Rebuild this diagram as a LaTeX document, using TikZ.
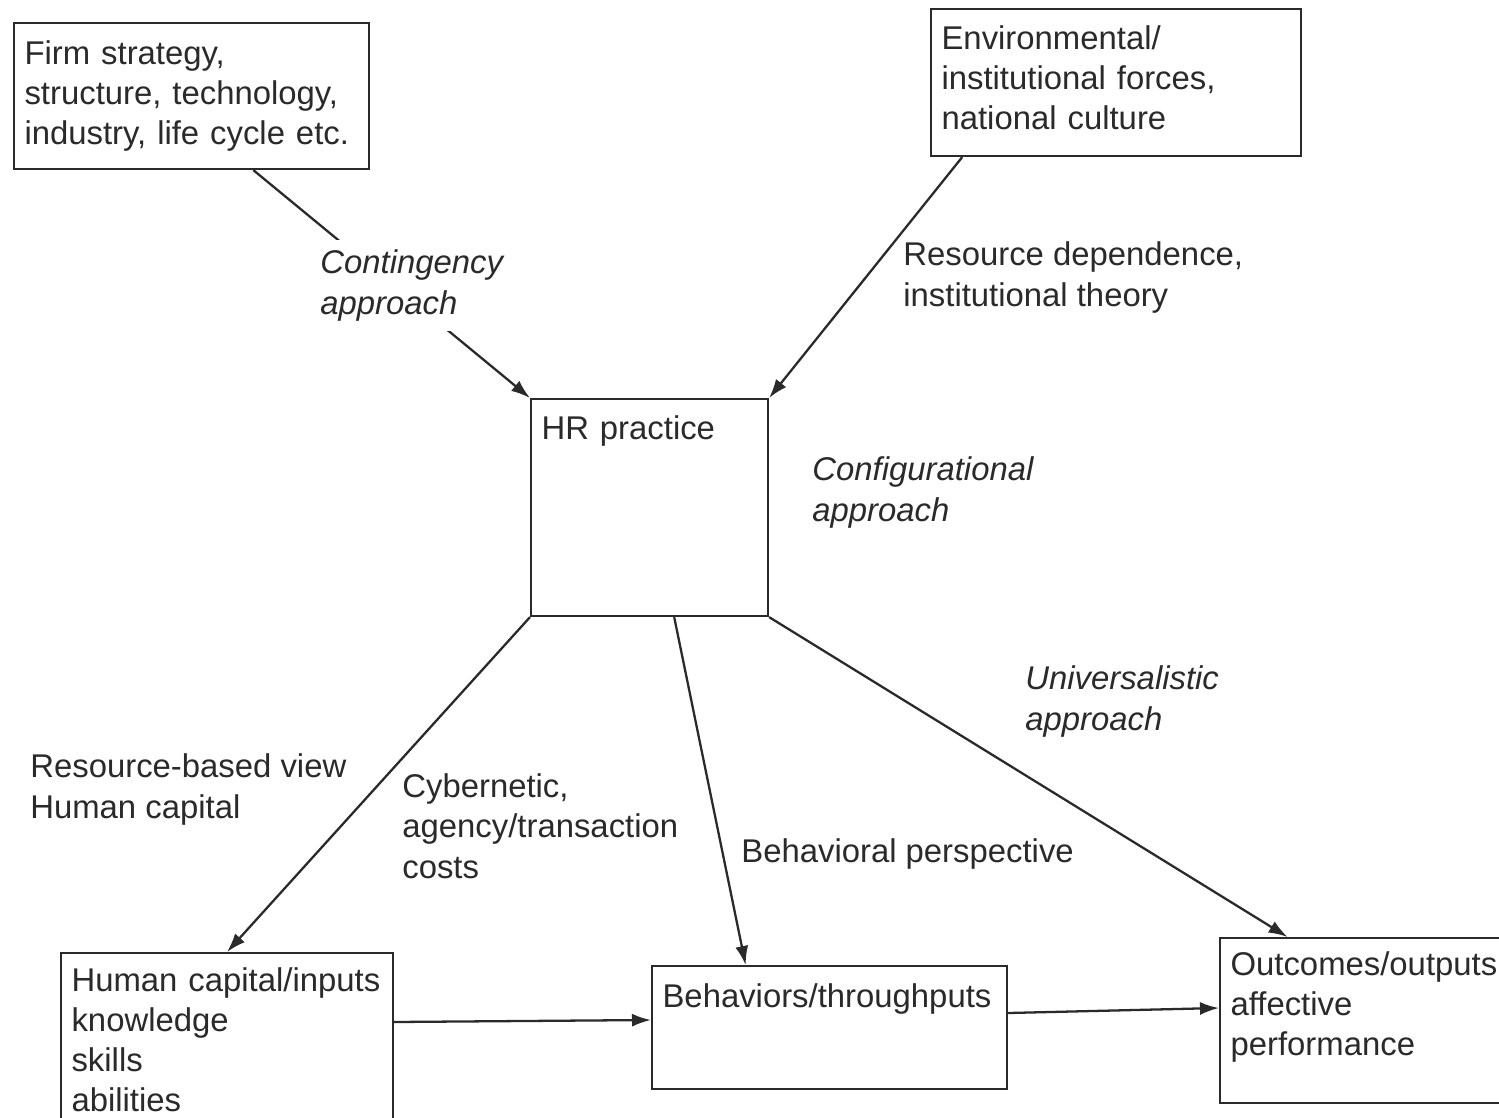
\documentclass[tikz,border=0pt]{standalone}
\usepackage{fontspec}
\setmainfont{Liberation Sans}
\usetikzlibrary{arrows.meta,calc}
\definecolor{ink}{HTML}{2A2A2A}
\begin{document}
\begin{tikzpicture}[x=0.2mm,y=-0.2mm,
  every node/.style={text=ink, font=\fontsize{18.7pt}{22.8pt}\selectfont},
  box/.style={draw=ink, line width=1.2pt, anchor=north west, inner xsep=2.1mm, inner ysep=0pt, align=left},
  lbl/.style={anchor=base west, inner sep=0pt, align=left},
  ilbl/.style={lbl, font=\fontsize{18.7pt}{22.8pt}\selectfont\itshape},
  conn/.style={draw=ink, line width=1.3pt, -{Latex[length=3.8mm,width=2.6mm]}}
]
\useasboundingbox[fill=white] (0,0) rectangle (1499,1117);
\clip (0,0) rectangle (1499,1117);

% boxes
\node[box, text width=66.8mm, text height=8.2mm, text depth=21mm] (firm) at (13,22)
  {Firm strategy,\\structure, technology,\\industry, life cycle etc.};
\node[box, text width=69.8mm, text height=8mm, text depth=21.4mm] (env) at (930,8)
  {Environmental/\\institutional forces,\\national culture};
\node[box, text width=43.2mm, text height=8mm, text depth=35.4mm] (hr) at (530,398)
  {HR practice};
\node[box, text width=62.2mm, text height=7.6mm, text depth=28mm] (hc) at (60,952)
  {Human capital/inputs\\knowledge\\skills\\abilities};
\node[box, text width=66.8mm, text height=8.2mm, text depth=16.4mm] (beh) at (651,965)
  {Behaviors/throughputs};
\node[box, text width=55mm, text height=7.4mm, text depth=25.6mm] (out) at (1219,937)
  {Outcomes/outputs\\affective\\performance};

% connectors
\draw[conn] ($(firm.south west)!0.673!(firm.south east)$) -- (hr.north west);
\draw[conn] ($(env.south west)!0.0865!(env.south east)$) -- (hr.north east);
\draw[conn] (hr.south west) -- (hc.north);
\draw[conn] ($(hr.south west)!0.603!(hr.south east)$) -- ($(beh.north west)!0.265!(beh.north east)$);
\draw[conn] (hr.south east) -- ($(out.north west)!0.23!(out.north east)$);
\draw[conn] ($(hc.north east)+(0,70)$) -- ($(beh.north west)+(0,55)$);
\draw[conn] ($(beh.north east)+(0,48)$) -- ($(out.north west)+(0,71)$);

% labels (anchor = baseline of last line)
\node[ilbl, fill=white, inner ysep=2mm] (cont) at (320,314) {Contingency\\approach};
\node[lbl] (resdep) at (903,306) {Resource dependence,\\institutional theory};
\node[ilbl] (config) at (812,521) {Configurational\\approach};
\node[ilbl] (univ) at (1025,730) {Universalistic\\approach};
\node[lbl] (rbv) at (30,818) {Resource-based view\\Human capital};
\node[lbl] (cyber) at (402,878) {Cybernetic,\\agency/transaction\\costs};
\node[lbl] (behp) at (741,862) {Behavioral perspective};
\end{tikzpicture}
\end{document}
